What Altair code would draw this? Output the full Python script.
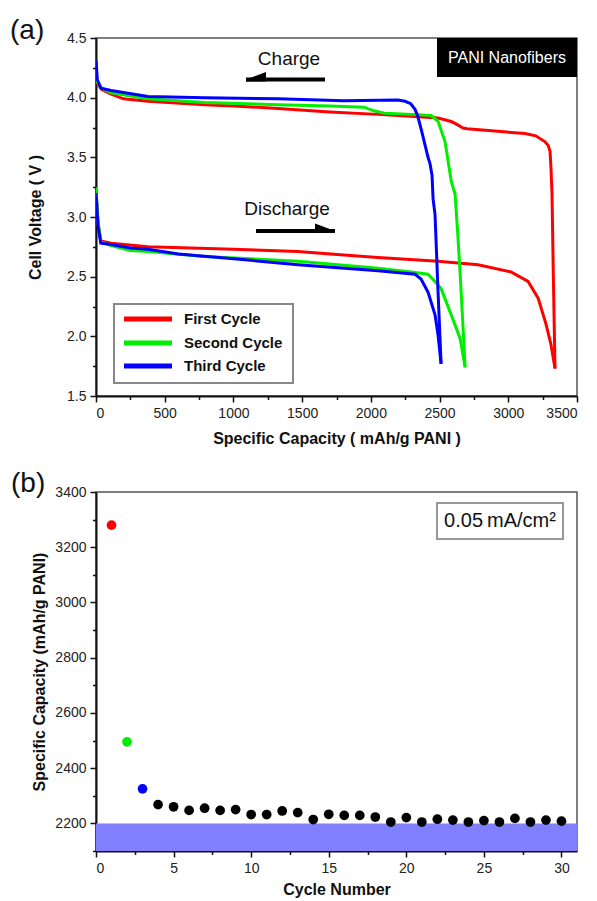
import altair as alt
import pandas as pd

FONT = "Liberation Sans"

# ---------------- panel (a): voltage profiles ----------------
cycles = ["First Cycle", "Second Cycle", "Third Cycle"]
cycle_colors = ["#FF0000", "#00EE00", "#0000FF"]

# discharge curves (capacity mAh/g, voltage V)
red_dis_cap = [0, 15, 35, 110, 378, 1000, 1470, 2052, 2489, 2780, 3020, 3144, 3217, 3275, 3311, 3340]
red_dis_v = [3.22, 2.95, 2.80, 2.78, 2.75, 2.73, 2.71, 2.66, 2.63, 2.60, 2.54, 2.46, 2.32, 2.10, 1.93, 1.73]
green_dis_cap = [0, 15, 35, 110, 250, 378, 790, 1470, 2052, 2293, 2416, 2450, 2511, 2585, 2650, 2686]
green_dis_v = [3.25, 2.95, 2.79, 2.76, 2.72, 2.71, 2.67, 2.63, 2.57, 2.54, 2.52, 2.48, 2.40, 2.18, 1.98, 1.74]
blue_dis_cap = [0, 15, 35, 110, 250, 378, 600, 1000, 1470, 2052, 2322, 2365, 2416, 2467, 2489, 2511]
blue_dis_v = [3.20, 2.92, 2.78, 2.77, 2.74, 2.73, 2.69, 2.65, 2.60, 2.55, 2.52, 2.48, 2.37, 2.18, 2.01, 1.77]

# charge curves
red_chg_cap = [3340, 3328, 3318, 3311, 3304, 3290, 3268, 3200, 3122, 2900, 2700, 2671, 2620, 2585, 2489,
               2343, 2052, 1700, 1325, 1000, 790, 378, 200, 110, 40, 10, 0]
red_chg_v = [1.73, 2.50, 3.20, 3.40, 3.55, 3.60, 3.63, 3.68, 3.70, 3.72, 3.74, 3.745, 3.78, 3.80, 3.83,
             3.84, 3.86, 3.88, 3.91, 3.93, 3.94, 3.97, 3.99, 4.03, 4.07, 4.12, 4.15]
green_chg_cap = [2686, 2665, 2649, 2630, 2613, 2585, 2540, 2490, 2440, 2300, 2100, 2020, 1950, 1700, 1325,
                 790, 378, 110, 40, 10, 0]
green_chg_v = [1.74, 2.20, 2.54, 2.90, 3.19, 3.30, 3.63, 3.80, 3.85, 3.86, 3.87, 3.89, 3.92, 3.93, 3.94,
               3.96, 3.99, 4.04, 4.08, 4.13, 4.17]
blue_chg_cap = [2511, 2489, 2467, 2453, 2445, 2430, 2416, 2395, 2365, 2340, 2322, 2290, 2249, 2198, 1800,
                1325, 790, 378, 110, 36, 10, 0]
blue_chg_v = [1.77, 2.37, 3.02, 3.15, 3.35, 3.45, 3.50, 3.60, 3.74, 3.85, 3.90, 3.95, 3.97, 3.98, 3.975,
              3.99, 4.00, 4.01, 4.06, 4.08, 4.15, 4.31]

curves = [
    (red_dis_cap, red_dis_v, red_chg_cap, red_chg_v),
    (green_dis_cap, green_dis_v, green_chg_cap, green_chg_v),
    (blue_dis_cap, blue_dis_v, blue_chg_cap, blue_chg_v),
]

# ---------------- panel (b): capacity vs cycle ----------------
cycle_no = list(range(1, 31))
capacity = [3280, 2495, 2325, 2268, 2260, 2247, 2255, 2247, 2250, 2232,
            2232, 2245, 2239, 2214, 2233, 2229, 2229, 2223, 2205, 2221,
            2205, 2215, 2212, 2205, 2210, 2205, 2218, 2205, 2212, 2208]
point_colors = ["#FF0000", "#00EE00", "#0000FF"] + ["#000000"] * 27

band_low = [2100]
band_high = [2200]
band_x0 = [0]
band_x1 = [31]

W = 481
H_A = 358
H_B = 359

AX_COLOR = "#111111"


def minor_axis(title, values, major_test, fmt, title_pos, orient):
    kw = dict(
        title=title,
        values=values,
        format=fmt,
        labelExpr=f"({major_test}) ? datum.label : ''",
        tickSize={"condition": {"test": major_test, "value": 6}, "value": 3.5},
        labelOverlap=False,
        labelPadding=4,
        grid=False,
        titleBaseline="middle",
    )
    if orient == "x":
        kw["titleY"] = title_pos
    else:
        kw["titleX"] = title_pos
        kw["titleAngle"] = -90
    return alt.Axis(**kw)


x_vals_a = [i * 250 for i in range(15)]
y_vals_a = [1.5 + 0.25 * i for i in range(13)]
x_axis_a = minor_axis("Specific Capacity ( mAh/g PANI )", x_vals_a, "datum.value % 500 == 0", "d", 42, "x")
y_axis_a = minor_axis("Cell Voltage ( V )", y_vals_a,
                      "abs(datum.value * 2 - round(datum.value * 2)) < 0.001", ".1f", -61, "y")

x_scale_a = alt.Scale(domain=[0, 3500], nice=False, zero=False)
y_scale_a = alt.Scale(domain=[1.5, 4.5], nice=False, zero=False)

layers_a = []
for (dc, dv, cc, cv), col in zip(curves, cycle_colors):
    rows = []
    for i, (c, v) in enumerate(zip(dc, dv)):
        rows.append({"cap": c, "v": v, "seg": "dis", "i": i})
    for i, (c, v) in enumerate(zip(cc, cv)):
        rows.append({"cap": c, "v": v, "seg": "chg", "i": i})
    df = pd.DataFrame(rows)
    layers_a.append(
        alt.Chart(df).mark_line(color=col, strokeWidth=3, clip=True).encode(
            x=alt.X("cap:Q", scale=x_scale_a, axis=x_axis_a),
            y=alt.Y("v:Q", scale=y_scale_a, axis=y_axis_a),
            detail="seg:N",
            order="i:Q",
        )
    )

one = pd.DataFrame({"k": [0]})

# (a) label
panel_a_label = pd.DataFrame({"t": ["(a)"]})
layers_a.append(alt.Chart(panel_a_label).mark_text(
    font=FONT, fontSize=28, align="left", baseline="middle", color="#111").encode(
    x=alt.value(-86), y=alt.value(-7), text="t:N"))

# PANI Nanofibers box
pani = pd.DataFrame({"t": ["PANI Nanofibers"]})
layers_a.append(alt.Chart(pani).mark_rect(color="black").encode(
    x=alt.value(341), x2=alt.value(W), y=alt.value(0), y2=alt.value(39)))
layers_a.append(alt.Chart(pani).mark_text(
    font=FONT, fontSize=16, color="white", align="center", baseline="middle").encode(
    x=alt.value(411), y=alt.value(20), text="t:N"))

# Charge / Discharge annotations
ann = pd.DataFrame({"t": ["Charge", "Discharge"]})
layers_a.append(alt.Chart(ann).transform_filter("datum.t == 'Charge'").mark_text(
    font=FONT, fontSize=19, align="center", baseline="middle", color="#111").encode(
    x=alt.value(193), y=alt.value(21), text="t:N"))
layers_a.append(alt.Chart(ann).transform_filter("datum.t == 'Discharge'").mark_text(
    font=FONT, fontSize=19, align="center", baseline="middle", color="#111").encode(
    x=alt.value(191), y=alt.value(171), text="t:N"))
# arrows
layers_a.append(alt.Chart(one).mark_rule(color="black", strokeWidth=4).encode(
    x=alt.value(150), x2=alt.value(229), y=alt.value(41.5)))
layers_a.append(alt.Chart(one).mark_point(
    shape="M -1 0 L 1 -0.75 L 1 0.2 L -1 0.2 Z", filled=True, color="black", size=400, opacity=1).encode(
    x=alt.value(160), y=alt.value(41.5)))
layers_a.append(alt.Chart(one).mark_rule(color="black", strokeWidth=4).encode(
    x=alt.value(160), x2=alt.value(239), y=alt.value(193)))
layers_a.append(alt.Chart(one).mark_point(
    shape="M 1 0 L -1 -0.75 L -1 0.2 L 1 0.2 Z", filled=True, color="black", size=400, opacity=1).encode(
    x=alt.value(229), y=alt.value(193)))

# legend (manual)
layers_a.append(alt.Chart(one).mark_rect(fill="white", stroke="#888888", strokeWidth=2).encode(
    x=alt.value(18), x2=alt.value(197), y=alt.value(266), y2=alt.value(345)))
leg_rows = [281, 305, 328]
for name, col, yy in zip(cycles, cycle_colors, leg_rows):
    layers_a.append(alt.Chart(pd.DataFrame({"t": [name]})).mark_rule(color=col, strokeWidth=5).encode(
        x=alt.value(28), x2=alt.value(76), y=alt.value(yy)))
    layers_a.append(alt.Chart(pd.DataFrame({"t": [name]})).mark_text(
        font=FONT, fontSize=15, fontWeight="bold", align="left", baseline="middle", color="#111").encode(
        x=alt.value(88), y=alt.value(yy), text="t:N"))

chart_a = alt.layer(*layers_a).properties(width=W, height=H_A)

# ---------------- panel (b) ----------------
x_vals_b = [2.5 * i for i in range(13)]
y_vals_b = list(range(2100, 3401, 100))
x_axis_b = minor_axis("Cycle Number", x_vals_b, "datum.value % 5 == 0", "d", 38, "x")
y_axis_b = minor_axis("Specific Capacity (mAh/g PANI)", y_vals_b, "datum.value % 200 == 0", "d", -57, "y")
x_scale_b = alt.Scale(domain=[0, 31], nice=False, zero=False)
y_scale_b = alt.Scale(domain=[2100, 3400], nice=False, zero=False)

band_df = pd.DataFrame({"x0": band_x0, "x1": band_x1, "lo": band_low, "hi": band_high})
band = alt.Chart(band_df).mark_rect(color="#8080FF", opacity=1).encode(
    x=alt.X("x0:Q", scale=x_scale_b, axis=x_axis_b),
    x2="x1:Q",
    y=alt.Y("lo:Q", scale=y_scale_b, axis=y_axis_b),
    y2="hi:Q",
)

pts_df = pd.DataFrame({"n": cycle_no, "cap": capacity, "col": point_colors})
pts = alt.Chart(pts_df).mark_circle(size=95, opacity=1).encode(
    x=alt.X("n:Q", scale=x_scale_b, axis=x_axis_b),
    y=alt.Y("cap:Q", scale=y_scale_b, axis=y_axis_b),
    color=alt.Color("col:N", scale=None),
)

rate = pd.DataFrame({"t": ["0.05\u2009mA/cm\u00b2"]})
rate_box = alt.Chart(rate).mark_rect(fill="white", stroke="#999999", strokeWidth=2).encode(
    x=alt.value(341), x2=alt.value(467), y=alt.value(11), y2=alt.value(47))
rate_txt = alt.Chart(rate).mark_text(font=FONT, fontSize=20, align="center", baseline="middle",
                                     color="#111").encode(
    x=alt.value(404), y=alt.value(29), text="t:N")

panel_b_label = pd.DataFrame({"t": ["(b)"]})
b_label = alt.Chart(panel_b_label).mark_text(
    font=FONT, fontSize=28, align="left", baseline="middle", color="#111").encode(
    x=alt.value(-85), y=alt.value(-8), text="t:N")

chart_b = alt.layer(band, pts, rate_box, rate_txt, b_label).properties(width=W, height=H_B)

chart = alt.vconcat(chart_a, chart_b, spacing=22).properties(
    padding={"left": 1, "top": 8, "right": 2, "bottom": 0}
).configure_view(
    stroke="#555555", strokeWidth=1.5
).configure_axis(
    domainColor=AX_COLOR, domainWidth=2, tickColor=AX_COLOR, tickWidth=1.5,
    labelFont=FONT, labelFontSize=14, labelColor="#222222",
    titleFont=FONT, titleFontSize=16, titleFontWeight="bold", titleColor="#111111",
)

chart.save("out.html", embed_options={"renderer": "svg", "actions": False})
